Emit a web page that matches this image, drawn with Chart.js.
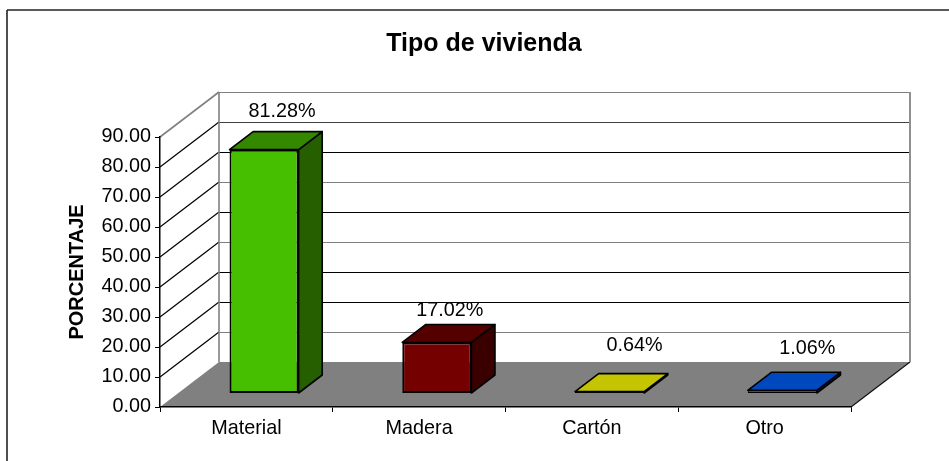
<!DOCTYPE html>
<html>
<head>
<meta charset="utf-8">
<style>html,body{margin:0;padding:0;background:#fff}canvas{display:block}</style>
<script src="https://cdn.jsdelivr.net/npm/chart.js@4"></script>
</head>
<body>
<canvas id="c" width="949" height="461"></canvas>
<script>
const chartTitle = 'Tipo de vivienda';
const axisTitle = 'PORCENTAJE';
const categories = ['Material', 'Madera', 'Cartón', 'Otro'];
const percentages = [81.28, 17.02, 0.64, 1.06];
const frontColors = ['#45BF00', '#750000', '#C4C400', '#0050C8'];
const topColors = ['#338800', '#550000', '#C4C400', '#0048BE'];
const sideColors = ['#265F00', '#3A0000', '#6E6E00', '#003080'];
const frontBorders = [2, 2, 1.5, 1];
const labelNudgeX = [18, 13, 25, 25];
const labelNudgeY = [-38, -32, -46, -42];
const wallLineColors = ['#808080', '#808080', '#000000', '#000000', '#808080', '#000000', '#808080', '#000000', '#404040', '#808080'];
const FONT = '"Liberation Sans", Arial, sans-serif';
const depth = { dx: 59, dy: -45 };
const barShift = 0.3, barDepth = 0.4;

function line(ctx, x1, y1, x2, y2, color, w) {
  ctx.strokeStyle = color; ctx.lineWidth = w;
  ctx.beginPath(); ctx.moveTo(x1, y1); ctx.lineTo(x2, y2); ctx.stroke();
}
function poly(ctx, pts, fill) {
  ctx.beginPath();
  pts.forEach((p, i) => i ? ctx.lineTo(p[0], p[1]) : ctx.moveTo(p[0], p[1]));
  ctx.closePath();
  ctx.fillStyle = fill; ctx.fill();
  ctx.strokeStyle = '#000'; ctx.lineWidth = 1.6; ctx.lineJoin = 'round'; ctx.stroke();
}

const scene = {
  id: 'scene',
  afterLayout(chart) {
    chart.titleBlock.left = 19; chart.titleBlock.right = 949;
  },
  beforeDraw(chart) {
    const { ctx, chartArea: a, scales: { y } } = chart;
    const { dx, dy } = depth;
    ctx.save();
    // outer frame
    line(ctx, 7, 10, 949, 10, '#222', 1.6);
    line(ctx, 7, 10, 7, 461, '#222', 1.6);
    // floor
    ctx.fillStyle = '#808080';
    ctx.beginPath();
    ctx.moveTo(a.left, a.bottom); ctx.lineTo(a.left + dx, a.bottom + dy);
    ctx.lineTo(a.right + dx, a.bottom + dy); ctx.lineTo(a.right, a.bottom);
    ctx.closePath(); ctx.fill();
    line(ctx, a.right, a.bottom, a.right + dx, a.bottom + dy, '#111', 1.2);
    // wall lines
    y.ticks.forEach((t, i) => {
      const p = y.getPixelForValue(t.value);
      const c = wallLineColors[i];
      if (i > 0) line(ctx, a.left + dx, Math.round(p + dy) + 0.5, a.right + dx, Math.round(p + dy) + 0.5, c, 1.2);
      if (i > 0) line(ctx, a.left, p, a.left + dx, p + dy, i === y.ticks.length - 1 ? '#808080' : '#000', i === y.ticks.length - 1 ? 1.6 : 1.2);
    });
    // wall uprights
    line(ctx, a.left + dx, a.top + dy, a.left + dx, a.bottom + dy, '#808080', 1.6);
    line(ctx, a.right + dx, a.top + dy, a.right + dx, a.bottom + dy, '#909090', 2);
    ctx.restore();
  },
  beforeDatasetDraw(chart) {
    chart.ctx.save();
    chart.ctx.translate(depth.dx * barShift, depth.dy * barShift);
  },
  afterDatasetDraw(chart, args) {
    const { ctx } = chart;
    const dx = depth.dx * barDepth, dy = depth.dy * barDepth;
    args.meta.data.forEach((el, i) => {
      const l = el.x - el.width / 2, r = el.x + el.width / 2;
      poly(ctx, [[r, el.base], [r + dx, el.base + dy], [r + dx, el.y + dy], [r, el.y]], sideColors[i]);
      poly(ctx, [[l, el.y], [l + dx, el.y + dy], [r + dx, el.y + dy], [r, el.y]], topColors[i]);
    });
    ctx.restore();
  },
  afterDatasetsDraw(chart) {
    const { ctx } = chart;
    const meta = chart.getDatasetMeta(0);
    ctx.save();
    ctx.font = '19.8px ' + FONT;
    ctx.fillStyle = '#000';
    ctx.textAlign = 'center';
    ctx.textBaseline = 'middle';
    meta.data.forEach((el, i) => {
      const sx = depth.dx * barShift, sy = depth.dy * barShift;
      ctx.fillText(percentages[i].toFixed(2) + '%', el.x + sx + labelNudgeX[i], el.y + sy + labelNudgeY[i]);
    });
    ctx.restore();
  }
};

new Chart(document.getElementById('c'), {
  type: 'bar',
  data: {
    labels: categories,
    datasets: [{
      data: percentages,
      backgroundColor: frontColors,
      borderColor: '#000',
      borderWidth: frontBorders,
      borderSkipped: false,
      barPercentage: 0.4,
      categoryPercentage: 1
    }]
  },
  options: {
    responsive: false,
    animation: false,
    layout: { padding: { left: 60, right: 98, top: 0, bottom: 24 } },
    plugins: {
      legend: { display: false },
      tooltip: { enabled: false },
      title: {
        display: true, text: chartTitle, color: '#000',
        font: { family: FONT, size: 25, weight: 'bold', lineHeight: 1 },
        padding: { top: 32, bottom: 80 }
      }
    },
    scales: {
      x: {
        afterFit(s) { s.height = 30; },
        grid: { drawOnChartArea: false, color: '#000', tickLength: 5 },
        border: { color: '#000', width: 1.5 },
        ticks: { color: '#000', font: { family: FONT, size: 19.8 }, padding: 5, maxRotation: 0 }
      },
      y: {
        min: 0, max: 90,
        afterFit(s) { s.width = 100; },
        grid: { drawOnChartArea: false, color: '#000', tickLength: 5 },
        border: { color: '#000', width: 1.5 },
        title: {
          display: true, text: axisTitle, color: '#000',
          font: { family: FONT, size: 20, weight: 'bold' }, padding: { top: 5, bottom: 0 }
        },
        ticks: {
          stepSize: 10, color: '#000', padding: 4,
          font: { family: FONT, size: 19.8 },
          callback: v => v.toFixed(2)
        }
      }
    }
  },
  plugins: [scene]
});
</script>
</body>
</html>
